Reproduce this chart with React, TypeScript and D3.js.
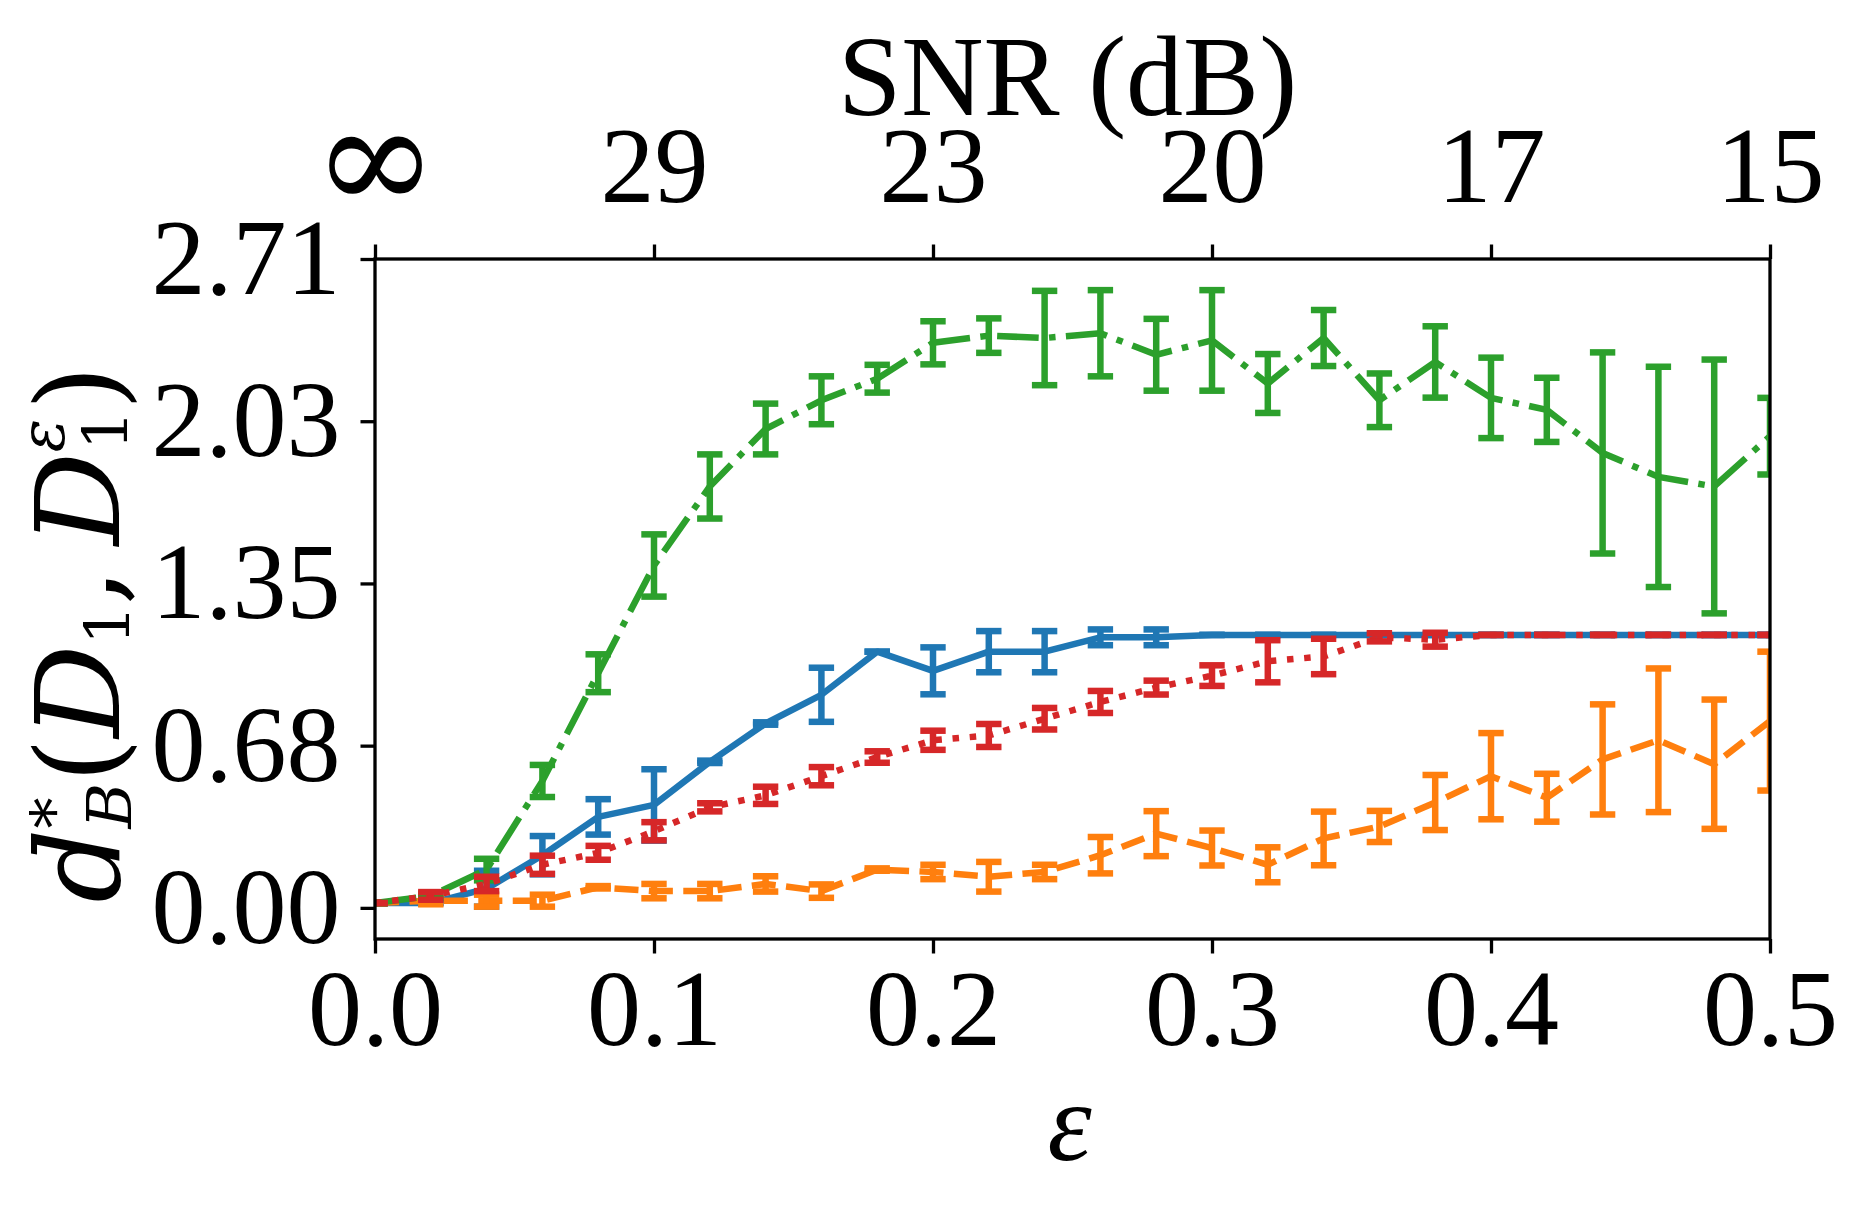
import React, { useEffect, useRef } from 'react';
import * as d3 from 'd3';

// noise level epsilon
const epsilon = [0, 0.02, 0.04, 0.06, 0.08, 0.1, 0.12, 0.14, 0.16, 0.18, 0.2, 0.22, 0.24,
  0.26, 0.28, 0.3, 0.32, 0.34, 0.36, 0.38, 0.4, 0.42, 0.44, 0.46, 0.48, 0.5];

// C0 - solid
const blueMean = [0.02, 0.02, 0.08, 0.22, 0.38, 0.43, 0.61, 0.77, 0.89, 1.07, 0.99, 1.07, 1.07,
  1.13, 1.13, 1.14, 1.14, 1.14, 1.14, 1.14, 1.14, 1.14, 1.14, 1.14, 1.14, 1.14];
const blueErr = [0, 0, 0.075, 0.08, 0.074, 0.149, 0.005, 0.005, 0.113, 0, 0.098, 0.086, 0.086,
  0.033, 0.033, 0, 0, 0, 0, 0, 0, 0, 0, 0, 0, 0];

// C1 - dashed
const orangeMean = [0.02, 0.03, 0.03, 0.03, 0.086, 0.07, 0.07, 0.1, 0.07, 0.16, 0.15, 0.13, 0.15,
  0.22, 0.31, 0.25, 0.18, 0.29, 0.34, 0.44, 0.55, 0.46, 0.62, 0.7, 0.6, 0.78];
const orangeErr = [0, 0.015, 0.025, 0.025, 0.005, 0.03, 0.03, 0.032, 0.028, 0.005, 0.03, 0.062, 0.03,
  0.076, 0.094, 0.073, 0.073, 0.112, 0.065, 0.115, 0.18, 0.1, 0.23, 0.3, 0.27, 0.29];

// C2 - dash-dot
const greenMean = [0.02, 0.05, 0.16, 0.53, 0.98, 1.43, 1.76, 2.0, 2.12, 2.21, 2.36, 2.39, 2.38,
  2.4, 2.31, 2.37, 2.19, 2.38, 2.12, 2.28, 2.13, 2.08, 1.9, 1.8, 1.76, 1.97];
const greenErr = [0, 0.01, 0.045, 0.067, 0.079, 0.13, 0.134, 0.106, 0.1, 0.058, 0.09, 0.072, 0.197,
  0.18, 0.15, 0.21, 0.123, 0.117, 0.112, 0.149, 0.168, 0.134, 0.42, 0.46, 0.53, 0.16];

// C3 - dotted
const redMean = [0.02, 0.05, 0.1, 0.18, 0.23, 0.32, 0.42, 0.47, 0.55, 0.63, 0.7, 0.72, 0.79,
  0.86, 0.92, 0.97, 1.03, 1.05, 1.13, 1.12, 1.14, 1.14, 1.14, 1.14, 1.14, 1.14];
const redErr = [0, 0.016, 0.03, 0.038, 0.029, 0.038, 0.017, 0.036, 0.038, 0.024, 0.04, 0.048, 0.045,
  0.046, 0.029, 0.043, 0.088, 0.074, 0.017, 0.029, 0, 0, 0, 0, 0, 0];

const xTickValues = [0, 0.1, 0.2, 0.3, 0.4, 0.5];
const xTickLabels = ['0.0', '0.1', '0.2', '0.3', '0.4', '0.5'];
const snrTickLabels = ['∞', '29', '23', '20', '17', '15'];
const yTickValues = [0, 0.6775, 1.355, 2.0325, 2.71];
const yTickLabels = ['0.00', '0.68', '1.35', '2.03', '2.71'];

const FONT = "'Liberation Serif', 'DejaVu Serif', serif";
const MATH_FONT = "'DejaVu Serif', 'Liberation Serif', serif";

const App = () => {
  const svgRef = useRef<SVGSVGElement>(null);

  useEffect(() => {
    const width = 1866;
    const height = 1214;
    const margin = { top: 259, right: 96, bottom: 275, left: 375 };
    const x0 = margin.left;
    const x1 = width - margin.right;
    const y0 = margin.top;
    const y1 = height - margin.bottom;

    const svg = d3.select(svgRef.current);
    svg.selectAll('*').remove();

    const x = d3.scaleLinear().domain([0, 0.5]).range([x0, x1]);
    const y = d3.scaleLinear().domain([-0.13, 2.71]).range([y1, y0]);

    svg.append('defs').append('clipPath').attr('id', 'plotclip')
      .append('rect')
      .attr('x', x0).attr('y', y0)
      .attr('width', x1 - x0).attr('height', y1 - y0);

    const lw = 6.5;
    const series = [
      { mean: blueMean, err: blueErr, color: '#1f77b4', dash: null },
      { mean: orangeMean, err: orangeErr, color: '#ff7f0e', dash: `${3.7 * lw},${1.6 * lw}` },
      { mean: greenMean, err: greenErr, color: '#2ca02c', dash: `${6.4 * lw},${1.6 * lw},${lw},${1.6 * lw}` },
      { mean: redMean, err: redErr, color: '#d62728', dash: `${lw},${1.65 * lw}` },
    ];

    const plot = svg.append('g').attr('clip-path', 'url(#plotclip)');
    const capHalf = 12.7;

    series.forEach(s => {
      const pts = epsilon.map((e, i) => ({ e, m: s.mean[i], r: s.err[i] }));
      const sg = plot.append('g');

      // line
      const line = d3.line<{ e: number; m: number }>()
        .x(d => x(d.e))
        .y(d => y(d.m));
      sg.append('path')
        .datum(pts)
        .attr('fill', 'none')
        .attr('stroke', s.color)
        .attr('stroke-width', lw)
        .attr('stroke-linejoin', 'round')
        .attr('stroke-dasharray', s.dash)
        .attr('d', line);

      // error bars
      sg.selectAll('line.bar')
        .data(pts)
        .enter()
        .append('line')
        .attr('class', 'bar')
        .attr('x1', d => x(d.e)).attr('x2', d => x(d.e))
        .attr('y1', d => y(d.m - d.r)).attr('y2', d => y(d.m + d.r))
        .attr('stroke', s.color)
        .attr('stroke-width', lw);

      [-1, 1].forEach(sign => {
        sg.selectAll(`line.cap${sign}`)
          .data(pts)
          .enter()
          .append('line')
          .attr('class', `cap${sign}`)
          .attr('x1', d => x(d.e) - capHalf).attr('x2', d => x(d.e) + capHalf)
          .attr('y1', d => y(d.m + sign * d.r)).attr('y2', d => y(d.m + sign * d.r))
          .attr('stroke', s.color)
          .attr('stroke-width', lw);
      });
    });

    // axes
    const yAxis = svg.append('g')
      .attr('transform', `translate(${x0},0)`)
      .call(d3.axisLeft(y).tickValues(yTickValues)
        .tickFormat((_, i) => yTickLabels[i]).tickSize(14.5).tickPadding(20));
    yAxis.select('.domain').remove();
    yAxis.attr('font-size', 108).attr('font-family', FONT);
    yAxis.selectAll('line').attr('stroke-width', 3.3);

    const xAxis = svg.append('g')
      .attr('transform', `translate(0,${y1})`)
      .call(d3.axisBottom(x).tickValues(xTickValues)
        .tickFormat((_, i) => xTickLabels[i]).tickSize(14.5).tickPadding(15));
    xAxis.select('.domain').remove();
    xAxis.attr('font-size', 108).attr('font-family', FONT);
    xAxis.selectAll('line').attr('stroke-width', 3.3);

    const topAxis = svg.append('g')
      .attr('transform', `translate(0,${y0})`)
      .call(d3.axisTop(x).tickValues(xTickValues)
        .tickFormat((_, i) => snrTickLabels[i]).tickSize(14.5).tickPadding(43));
    topAxis.select('.domain').remove();
    topAxis.attr('font-size', 108).attr('font-family', FONT);
    topAxis.selectAll('line').attr('stroke-width', 3.3);
    topAxis.selectAll('text')
      .filter((_, i) => i === 0)
      .attr('font-family', MATH_FONT)
      .attr('font-size', 150)
      .attr('dy', 8);

    // frame
    svg.append('rect')
      .attr('x', x0).attr('y', y0)
      .attr('width', x1 - x0).attr('height', y1 - y0)
      .attr('fill', 'none')
      .attr('stroke', '#000')
      .attr('stroke-width', 3.3);

    // axis labels
    svg.append('text')
      .attr('x', (x0 + x1) / 2 - 5)
      .attr('y', 115)
      .attr('text-anchor', 'middle')
      .attr('font-family', FONT)
      .attr('font-size', 114)
      .text('SNR (dB)');

    svg.append('text')
      .attr('x', (x0 + x1) / 2 - 3)
      .attr('y', 1160)
      .attr('text-anchor', 'middle')
      .attr('font-family', FONT)
      .attr('font-style', 'italic')
      .attr('font-size', 112)
      .text('ε');

    // d*_B(D_1, D_1^ε)
    const small = 62;
    const yl = svg.append('text')
      .attr('transform', `translate(119,634) rotate(-90)`)
      .attr('text-anchor', 'middle')
      .attr('font-family', MATH_FONT)
      .attr('font-size', 116);
    yl.append('tspan').attr('font-style', 'italic').text('d');
    yl.append('tspan').attr('font-size', small).attr('dy', -44).text('*');
    yl.append('tspan').attr('font-size', small).attr('font-style', 'italic')
      .attr('dx', -0.5 * small).attr('dy', 56).text('B');
    yl.append('tspan').attr('dy', -12).text('(');
    yl.append('tspan').attr('font-style', 'italic').text('D');
    yl.append('tspan').attr('font-size', small).attr('dy', 10).text('1');
    yl.append('tspan').attr('dy', -10).text(',\u2009');
    yl.append('tspan').attr('font-style', 'italic').text('D');
    yl.append('tspan').attr('font-size', small).attr('font-style', 'italic').attr('dy', -55).text('ε');
    yl.append('tspan').attr('font-size', small).attr('dx', -0.5 * small).attr('dy', 63).text('1');
    yl.append('tspan').attr('dy', -8).text(')');
  }, []);

  return (
    <svg
      ref={svgRef}
      width={1866}
      height={1214}
      style={{ position: 'absolute', left: 0, top: 0, background: '#fff' }}
    />
  );
};

export default App;
